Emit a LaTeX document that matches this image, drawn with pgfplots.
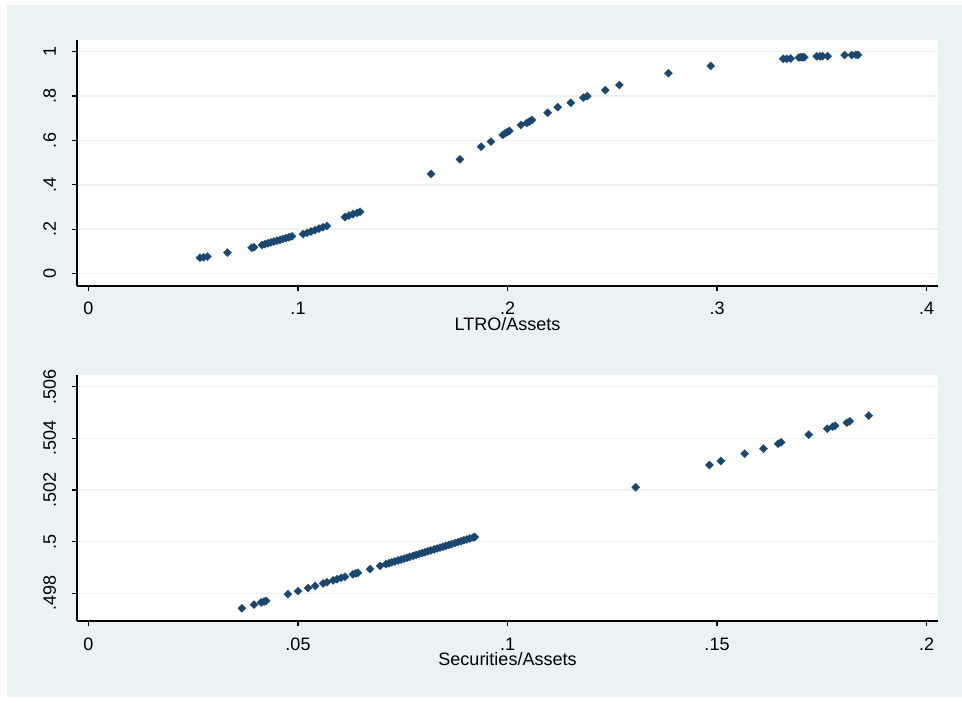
\documentclass[border=0pt]{standalone}
\usepackage{fontspec}
\setmainfont{Liberation Sans}
\usepackage{pgfplots}
\usepackage{pgfplotstable}
\pgfplotsset{compat=1.18}
\definecolor{stbg}{RGB}{234,242,243}
\definecolor{stnavy}{RGB}{26,71,111}

\pgfplotstableread{
x y
0.0532 0.072
0.0549 0.074
0.0568 0.077
0.0663 0.095
0.0779 0.117
0.0790 0.119
0.0828 0.129
0.0842 0.133
0.0857 0.137
0.0871 0.141
0.0885 0.145
0.0900 0.149
0.0914 0.152
0.0928 0.156
0.0943 0.160
0.0957 0.164
0.0971 0.168
0.1024 0.178
0.1043 0.184
0.1062 0.190
0.1081 0.196
0.1100 0.203
0.1119 0.209
0.1138 0.215
0.1224 0.255
0.1243 0.262
0.1262 0.268
0.1282 0.274
0.1296 0.279
0.1635 0.449
0.1773 0.515
0.1874 0.572
0.1921 0.595
0.1977 0.625
0.1988 0.632
0.1999 0.638
0.2009 0.643
0.2064 0.670
0.2092 0.679
0.2104 0.685
0.2117 0.692
0.2192 0.725
0.2240 0.750
0.2302 0.770
0.2362 0.793
0.2381 0.800
0.2467 0.827
0.2534 0.850
0.2768 0.903
0.2970 0.936
0.3316 0.968
0.3333 0.968
0.3352 0.969
0.3391 0.974
0.3401 0.975
0.3409 0.975
0.3417 0.975
0.3476 0.979
0.3492 0.979
0.3504 0.980
0.3528 0.980
0.3609 0.985
0.3643 0.985
0.3663 0.986
0.3673 0.986
}\ltro

\pgfplotstableread{
x y
0.0366 0.497419
0.0395 0.497563
0.0412 0.497648
0.0419 0.497682
0.0424 0.497707
0.0476 0.497966
0.0500 0.498085
0.0524 0.498204
0.0541 0.498289
0.0560 0.498383
0.0569 0.498428
0.0584 0.498502
0.0593 0.498547
0.0603 0.498597
0.0612 0.498642
0.0631 0.498736
0.0638 0.498771
0.0643 0.498796
0.0672 0.498940
0.0696 0.499059
0.0710 0.499129
0.0717 0.499163
0.0724 0.499198
0.0731 0.499233
0.0739 0.499273
0.0746 0.499308
0.0753 0.499342
0.0760 0.499377
0.0767 0.499412
0.0775 0.499452
0.0782 0.499487
0.0789 0.499521
0.0796 0.499556
0.0803 0.499591
0.0810 0.499626
0.0817 0.499660
0.0825 0.499700
0.0832 0.499735
0.0839 0.499770
0.0846 0.499805
0.0853 0.499839
0.0860 0.499874
0.0867 0.499909
0.0875 0.499949
0.0882 0.499984
0.0889 0.500018
0.0896 0.500053
0.0903 0.500088
0.0910 0.500123
0.0918 0.500162
0.0922 0.500182
0.1306 0.502104
0.1482 0.502968
0.1509 0.503123
0.1566 0.503405
0.1611 0.503599
0.1646 0.503793
0.1653 0.503847
0.1719 0.504141
0.1763 0.504373
0.1776 0.504451
0.1782 0.504489
0.1810 0.504606
0.1817 0.504660
0.1862 0.504877
}\secur

\pgfplotsset{
  stata/.style={
    scale only axis, width=430.5pt, height=123pt,
    anchor=south west,
    axis x line*=bottom, axis y line*=left,
    axis line style={black, line width=0.6pt, -},
    axis background/.style={fill=white},
    tick align=outside, major tick length=2.5pt,
    tick style={black, line width=0.6pt},
    ymajorgrids, grid style={stbg, line width=0.8pt},
    minor tick num=0,
    scaled ticks=false,
    every tick label/.append style={font=\fontsize{9}{10}\selectfont, text=black},
    yticklabel style={rotate=90, anchor=base},
    xticklabel style={anchor=base},
    xticklabel shift=12pt,
    yticklabel shift=8pt,
    label style={font=\fontsize{9}{10}\selectfont, text=black},
    xlabel style={at={(axis description cs:0.5,0)}, anchor=base, yshift=-22.3pt},
  },
  stmark/.style={only marks, mark=square*, mark size=1.45pt, color=stnavy,
    mark options={rotate=45, fill=stnavy, draw=stnavy, line width=0.1pt}},
}

\begin{document}
\begin{tikzpicture}[x=0.5pt,y=0.5pt]
\useasboundingbox (0,0) rectangle (962,702);
\fill[stbg] (7,5) rectangle (962,697);
\begin{axis}[stata, at={(38.5pt,208pt)},
  xmin=-0.00549, xmax=0.40549, ymin=-0.0554, ymax=1.0527,
  xtick={0,0.1,0.2,0.3,0.4}, xticklabels={0,.1,.2,.3,.4},
  ytick={0,0.2,0.4,0.6,0.8,1}, yticklabels={0,.2,.4,.6,.8,1},
  xlabel={LTRO/Assets}]
\addplot[stmark] table[x=x,y=y] {\ltro};
\end{axis}
\begin{axis}[stata, at={(38.5pt,40.5pt)},
  xmin=-0.002745, xmax=0.202745, ymin=0.496928, ymax=0.506453,
  xtick={0,0.05,0.1,0.15,0.2}, xticklabels={0,.05,.1,.15,.2},
  ytick={0.498,0.5,0.502,0.504,0.506}, yticklabels={.498,.5,.502,.504,.506},
  xlabel={Securities/Assets}]
\addplot[stmark] table[x=x,y=y] {\secur};
\end{axis}
\end{tikzpicture}
\end{document}
